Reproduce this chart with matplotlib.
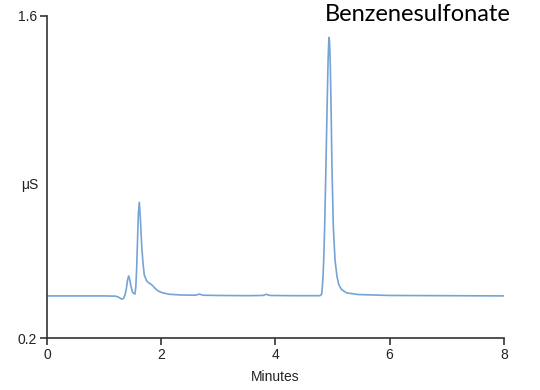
import matplotlib
matplotlib.use("Agg")
import matplotlib.pyplot as plt

# chromatogram (minutes, uS)
time_min = [0.0, 0.5, 1.0, 1.2, 1.25, 1.31, 1.34, 1.37, 1.39, 1.41, 1.43, 1.45, 1.47,
            1.50, 1.54, 1.555, 1.57, 1.585, 1.60, 1.617, 1.635, 1.658, 1.68, 1.704,
            1.746, 1.78, 1.82, 1.86, 1.90, 1.95, 2.03, 2.15, 2.35, 2.6, 2.67, 2.73,
            3.0, 3.5, 3.78, 3.84, 3.9, 4.3, 4.78, 4.81, 4.822, 4.834, 4.846, 4.863,
            4.885, 4.905, 4.922, 4.934, 4.941, 4.948, 4.96, 4.975, 4.99, 5.014,
            5.044, 5.079, 5.11, 5.16, 5.25, 5.45, 6.0, 7.0, 8.0]
signal_us = [0.383, 0.383, 0.383, 0.382, 0.378, 0.369, 0.372, 0.390, 0.415, 0.450,
             0.470, 0.455, 0.425, 0.398, 0.391, 0.420, 0.500, 0.620, 0.740, 0.790,
             0.720, 0.604, 0.530, 0.474, 0.448, 0.440, 0.434, 0.425, 0.414, 0.404,
             0.396, 0.390, 0.387, 0.386, 0.391, 0.386, 0.385, 0.384, 0.385, 0.390,
             0.385, 0.384, 0.384, 0.390, 0.423, 0.467, 0.539, 0.684, 0.950, 1.200,
             1.400, 1.490, 1.507, 1.490, 1.400, 1.200, 0.950, 0.684, 0.539, 0.467,
             0.432, 0.410, 0.396, 0.389, 0.385, 0.384, 0.383]

x_ticks = [0, 2, 4, 6, 8]
y_ticks = [0.2, 1.6]

fig = plt.figure(figsize=(5.4, 3.9), dpi=100)
ax = fig.add_axes([0.087, 0.1333, 0.846, 0.8257])

ax.plot(time_min, signal_us, color="#76a3d6", lw=1.2)

ax.set_xlim(0, 8)
ax.set_ylim(0.2, 1.6)
ax.set_xticks(x_ticks)
ax.set_xticklabels([str(t) for t in x_ticks])
ax.set_yticks(y_ticks)
ax.set_yticklabels(["0.2", "1.6"])

tick_font = ["Liberation Sans Narrow", "Liberation Sans", "DejaVu Sans"]
for lab in ax.get_xticklabels() + ax.get_yticklabels():
    lab.set_family(tick_font)
    lab.set_fontsize(10)
    lab.set_color("#222222")

for side in ["top", "right"]:
    ax.spines[side].set_visible(False)
for side in ["left", "bottom"]:
    ax.spines[side].set_color("#333333")
    ax.spines[side].set_linewidth(1.2)
ax.tick_params(color="#333333", width=1.2, length=5, pad=2)

ax.set_xlabel("Minutes", family=tick_font, fontsize=10, color="#222222", labelpad=6)
fig.text(0.055, 0.525, "\u03bcS", family=tick_font, fontsize=10, color="#222222",
         ha="center", va="center")

fig.text(0.945, 0.962, "Benzenesulfonate", family=["Lato", "DejaVu Sans"],
         fontsize=17, ha="right", va="center", color="black")

fig.savefig("out.png", dpi=100)
